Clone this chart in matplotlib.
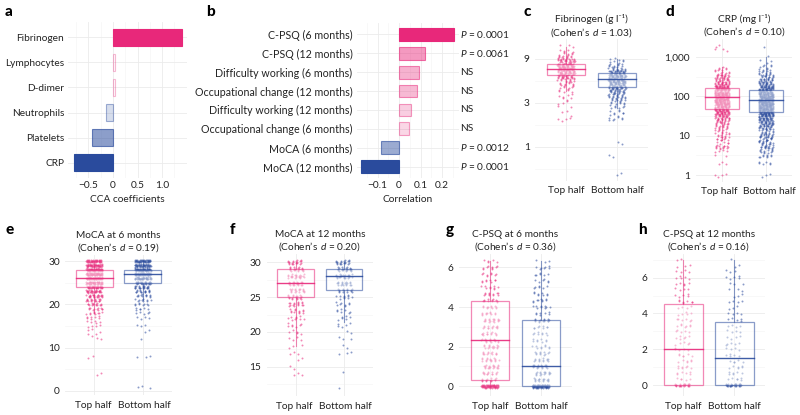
import numpy as np
import matplotlib
matplotlib.use("Agg")
import matplotlib.pyplot as plt
from matplotlib.colors import to_rgba
from matplotlib.transforms import ScaledTranslation

plt.rcParams['font.family'] = ['Lato', 'DejaVu Sans']
plt.rcParams['mathtext.fontset'] = 'custom'
plt.rcParams['mathtext.rm'] = 'Lato'
plt.rcParams['mathtext.it'] = 'Lato:italic'
plt.rcParams['mathtext.bf'] = 'Lato:bold'

PINK = '#E8287A'
BLUE = '#2A4B9D'
GRID = '#EBEBEB'
GRID_MINOR = '#F5F5F5'
TEXT = '#222222'
FS = 7.3

# ---------------- data ----------------
# panel a: CCA coefficients
cca_labels = ['Fibrinogen', 'Lymphocytes', 'D-dimer', 'Neutrophils', 'Platelets', 'CRP']
cca_values = [1.40, 0.04, 0.04, -0.15, -0.43, -0.80]

# panel b: correlations
corr_labels = ['C-PSQ (6 months)', 'C-PSQ (12 months)', 'Difficulty working (6 months)',
               'Occupational change (12 months)', 'Difficulty working (12 months)',
               'Occupational change (6 months)', 'MoCA (6 months)', 'MoCA (12 months)']
corr_values = [0.257, 0.122, 0.092, 0.082, 0.057, 0.047, -0.082, -0.175]
corr_pvals = ['$P$ = 0.0001', '$P$ = 0.0061', 'NS', 'NS', 'NS', 'NS',
              '$P$ = 0.0012', '$P$ = 0.0001']

group_labels = ['Top half', 'Bottom half']

# box stats: [whisker low, q1, median, q3, whisker high]
# panel c: fibrinogen (g/l)
fib_top_vals = [2.0, 2.2, 2.4, 2.7, 3.0, 3.3, 3.6, 4.0, 4.4, 4.8, 5.3, 5.8, 6.4, 7.0, 7.7, 8.5, 9.3, 10.2, 11.2, 12.3]
fib_top_counts = [4, 1, 2, 2, 3, 3, 4, 5, 7, 9, 14, 22, 34, 40, 36, 24, 14, 7, 4, 3]
fib_top_box = [4.0, 6.0, 6.9, 7.9, 12.0]
fib_bot_vals = [0.5, 0.8, 1.1, 2.0, 2.2, 2.4, 2.7, 3.0, 3.3, 3.6, 4.0, 4.4, 4.8, 5.3, 5.8, 6.4, 7.0, 7.7, 8.5, 9.0]
fib_bot_counts = [2, 2, 2, 7, 4, 5, 7, 9, 12, 16, 20, 28, 32, 38, 36, 28, 16, 9, 5, 3]
fib_bot_box = [2.6, 4.4, 5.4, 6.3, 9.0]

# panel d: CRP (mg/l)
crp_top_vals = [1, 2, 3, 4, 5, 6, 7, 8, 9, 10, 12, 15, 18, 22, 27, 33, 39, 47, 56, 68, 82, 100,
                120, 150, 180, 220, 270, 330, 390, 470, 560, 1500, 2000]
crp_top_counts = [4, 3, 2, 4, 12, 4, 4, 5, 3, 7, 7, 9, 10, 14, 18, 22, 26, 30, 34, 40, 42, 42,
                  40, 36, 30, 24, 18, 13, 9, 6, 3, 3, 2]
crp_top_box = [8, 48, 95, 160, 560]
crp_bot_vals = [1, 2, 3, 4, 5, 6, 7, 8, 9, 10, 12, 15, 18, 22, 27, 33, 39, 47, 56, 68, 82, 100,
                120, 150, 180, 220, 270, 330, 390, 470, 560, 680, 820, 1000, 1800]
crp_bot_counts = [3, 6, 9, 11, 14, 9, 8, 8, 6, 12, 12, 16, 18, 24, 28, 32, 36, 40, 42, 44, 44, 42,
                  38, 32, 28, 22, 16, 12, 9, 7, 4, 3, 2, 1, 1]
crp_bot_box = [6, 40, 80, 145, 1000]

# panel e: MoCA at 6 months
moca6_vals = [30, 29, 28, 27, 26, 25, 24, 23, 22, 21, 20, 19, 18, 17, 16, 15, 14, 13, 12, 8, 4, 1]
moca6_top_counts = [40, 45, 50, 50, 45, 40, 38, 30, 24, 18, 14, 11, 9, 7, 5, 4, 3, 3, 2, 2, 2, 0]
moca6_top_box = [18, 24, 26, 28, 30]
moca6_bot_counts = [45, 45, 50, 45, 38, 30, 22, 16, 12, 9, 8, 6, 5, 4, 0, 3, 2, 0, 1, 3, 0, 3]
moca6_bot_box = [21, 25, 27, 28, 30]

# panel f: MoCA at 12 months
moca12_vals = [30, 29, 28, 27, 26, 25, 24, 23, 22, 21, 20, 19, 18, 17, 16, 15, 14, 12]
moca12_top_counts = [20, 20, 22, 22, 18, 18, 16, 12, 9, 7, 5, 4, 3, 3, 2, 2, 3, 0]
moca12_top_box = [18, 25, 27, 29, 30]
moca12_bot_counts = [20, 22, 24, 18, 14, 10, 8, 7, 6, 5, 2, 3, 2, 3, 0, 0, 1, 1]
moca12_bot_box = [21.5, 26, 28, 29, 30]

# panel g: C-PSQ at 6 months
cpsq6_vals = [0, 0.33, 0.67, 1.0, 1.33, 1.67, 2.0, 2.33, 2.67, 3.0, 3.33, 3.67, 4.0, 4.33,
              4.67, 5.0, 5.33, 5.67, 6.0, 6.33]
cpsq6_top_counts = [55, 12, 14, 20, 16, 13, 15, 17, 13, 13, 17, 11, 11, 11, 11, 9, 8, 8, 9, 5]
cpsq6_top_box = [0, 0.33, 2.33, 4.33, 6.33]
cpsq6_bot_counts = [70, 16, 16, 20, 13, 11, 9, 8, 8, 8, 14, 7, 9, 9, 8, 6, 6, 6, 7, 3]
cpsq6_bot_box = [0, 0, 1.0, 3.33, 6.33]

# panel h: C-PSQ at 12 months
cpsq12_vals = [0, 0.33, 0.67, 1.0, 1.33, 1.67, 2.0, 2.33, 2.67, 3.0, 3.33, 3.67, 4.0, 4.33,
               4.67, 5.0, 5.33, 5.67, 6.0, 6.33, 6.67, 7.0]
cpsq12_top_counts = [22, 5, 6, 7, 6, 6, 5, 5, 6, 5, 7, 6, 5, 4, 7, 5, 4, 5, 5, 4, 3, 2]
cpsq12_top_box = [0, 0, 2.0, 4.5, 7.0]
cpsq12_bot_counts = [28, 6, 6, 6, 5, 5, 4, 5, 4, 4, 4, 5, 4, 3, 4, 3, 3, 3, 5, 3, 2, 1]
cpsq12_bot_box = [0, 0, 1.5, 3.5, 7.0]

# ---------------- figure ----------------
W, H = 800, 415
fig = plt.figure(figsize=(W / 100, H / 100), dpi=100)


def px_axes(l, t, r, b):
    return fig.add_axes([l / W, 1 - b / H, (r - l) / W, (b - t) / H])


def clean(ax):
    for s in ax.spines.values():
        s.set_visible(False)
    ax.tick_params(length=0, labelsize=FS, colors=TEXT)
    ax.set_axisbelow(True)


def panel_label(x, y, s):
    fig.text(x / W, 1 - y / H, s, fontsize=11, fontweight='black', va='center', ha='left')


def bar_panel(ax, labels, values, xlim, major, minor):
    n = len(labels)
    ypos = np.arange(n, 0, -1)
    pmax = max(v for v in values if v > 0)
    nmax = max(-v for v in values if v < 0)
    for y, v in zip(ypos, values):
        base = PINK if v > 0 else BLUE
        frac = abs(v) / (pmax if v > 0 else nmax)
        ax.barh(y, v, height=0.68, color=to_rgba(base, frac),
                edgecolor=to_rgba(base, 0.3 + 0.7 * frac), linewidth=0.8, zorder=3)
    ax.set_yticks(ypos)
    ax.set_yticklabels(labels)
    ax.set_ylim(0.4, n + 0.6)
    ax.set_xlim(*xlim)
    ax.set_xticks(major)
    ax.set_xticklabels([('%g' % m).replace('-', '\u2212') for m in major])
    for m in minor:
        ax.axvline(m, color=GRID_MINOR, lw=0.5, zorder=0)
    ax.grid(True, color=GRID, lw=0.6)
    clean(ax)
    ax.tick_params(axis='y', pad=3)
    ax.tick_params(axis='x', pad=2)
    return ypos


def jitter(vals, counts, xc, ysp, log):
    xs, ys = [], []
    k = 0
    for v, c in zip(vals, counts):
        for _ in range(c):
            k += 1
            dx = ((k * 0.7548776662) % 1 - 0.5) * 0.34
            dy = ((k * 0.5698402910 + 0.3) % 1 - 0.5) * 2 * ysp
            xs.append(xc + dx)
            ys.append(v * 10 ** dy if log else v + dy)
    return xs, ys


def box_panel(ax, title, groups, ylim, yticks, yticklabels, minor, ysp, log=False):
    for i, (vals, counts, box, color) in enumerate(groups):
        xc = i + 1
        xs, ys = jitter(vals, counts, xc, ysp, log)
        ax.scatter(xs, ys, s=2.0, color=color, alpha=0.55, lw=0, zorder=2)
        lo, q1, med, q3, hi = box
        ec = to_rgba(color, 0.55)
        ax.plot([xc, xc], [lo, q1], color=ec, lw=0.8, zorder=3)
        ax.plot([xc, xc], [q3, hi], color=ec, lw=0.8, zorder=3)
        ax.add_patch(plt.Rectangle((xc - 0.38, q1), 0.76, q3 - q1, facecolor=(1, 1, 1, 0.45),
                                   edgecolor=ec, lw=0.9, zorder=4))
        ax.plot([xc - 0.38, xc + 0.38], [med, med], color=to_rgba(color, 0.9), lw=1.0, zorder=5)
    if log:
        ax.set_yscale('log')
    ax.set_ylim(*ylim)
    ax.set_xlim(0.4, 2.6)
    ax.set_xticks([1, 2])
    ax.set_xticklabels(group_labels)
    ax.set_yticks(yticks)
    ax.set_yticklabels(yticklabels)
    ax.minorticks_off()
    for m in minor:
        ax.axhline(m, color=GRID_MINOR, lw=0.5, zorder=0)
    ax.grid(True, color=GRID, lw=0.6)
    clean(ax)
    ax.tick_params(axis='x', pad=4)
    ax.tick_params(axis='y', pad=4)
    ax.set_title(title, fontsize=FS, pad=3, linespacing=1.15, color=TEXT)


def spread_xlabels(ax, px):
    # nudge the two group labels apart so they do not touch
    for lab, sgn in zip(ax.get_xticklabels(), (-1, 1)):
        lab.set_transform(lab.get_transform() + ScaledTranslation(sgn * px / 100, 0, fig.dpi_scale_trans))


def cohen(d):
    return '(Cohen\u2019s $\\,d$ = %s)' % d


# a
ax_a = px_axes(68.4, 22, 187, 178)
bar_panel(ax_a, cca_labels, cca_values, (-0.91, 1.51),
          [-0.5, 0, 0.5, 1.0], [-0.75, -0.25, 0.25, 0.75, 1.25])
ax_a.set_xticklabels(['\u22120.5', '0', '0.5', '1.0'])
ax_a.set_xlabel('CCA coefficients', fontsize=FS, color=TEXT, labelpad=4)
panel_label(5, 12, 'a')

# b
ax_b = px_axes(356.7, 23, 459, 178)
ypos_b = bar_panel(ax_b, corr_labels, corr_values, (-0.197, 0.279),
                   [-0.1, 0, 0.1, 0.2], [-0.15, -0.05, 0.05, 0.15, 0.25])
ax_b.tick_params(axis='y', labelsize=7.7)
for y, p in zip(ypos_b, corr_pvals):
    ax_b.text(1.01, y, p, transform=ax_b.get_yaxis_transform(), fontsize=FS,
              va='center', ha='left', color=TEXT)
ax_b.set_xlabel('Correlation', fontsize=FS, color=TEXT, labelpad=4)
panel_label(206, 12, 'b')

# c
ax_c = px_axes(535.4, 39.3, 647.6, 180.8)
box_panel(ax_c, 'Fibrinogen (g l\u207b\u00b9)\n' + cohen('1.03'),
          [(fib_top_vals, fib_top_counts, fib_top_box, PINK),
           (fib_bot_vals, fib_bot_counts, fib_bot_box, BLUE)],
          (10 ** -0.371, 10 ** 1.167), [1, 3, 9], ['1', '3', '9'],
          [3 ** -0.5, 3 ** 0.5, 3 ** 1.5], 0.02, log=True)
panel_label(524, 12, 'c')

# d
ax_d = px_axes(695.6, 38.8, 792.4, 181.5)
box_panel(ax_d, 'CRP (mg l\u207b\u00b9)\n' + cohen('0.10'),
          [(crp_top_vals, crp_top_counts, crp_top_box, PINK),
           (crp_bot_vals, crp_bot_counts, crp_bot_box, BLUE)],
          (10 ** -0.165, 10 ** 3.465), [1, 10, 100, 1000], ['1', '10', '100', '1,000'],
          [10 ** 0.5, 10 ** 1.5, 10 ** 2.5, 10 ** 3.5], 0.04, log=True)
spread_xlabels(ax_d, 3)
panel_label(665, 12, 'd')

# e
ax_e = px_axes(65.3, 254.6, 171.7, 395.3)
box_panel(ax_e, 'MoCA at 6 months\n' + cohen('0.19'),
          [(moca6_vals, moca6_top_counts, moca6_top_box, PINK),
           (moca6_vals, moca6_bot_counts, moca6_bot_box, BLUE)],
          (-1.0, 31.5), [0, 10, 20, 30], ['0', '10', '20', '30'], [5, 15, 25], 0.3)
spread_xlabels(ax_e, 1.5)
panel_label(5, 230, 'e')

# f
ax_f = px_axes(266.9, 254, 372.9, 396)
box_panel(ax_f, 'MoCA at 12 months\n' + cohen('0.20'),
          [(moca12_vals, moca12_top_counts, moca12_top_box, PINK),
           (moca12_vals, moca12_bot_counts, moca12_bot_box, BLUE)],
          (10.8, 31.2), [15, 20, 25, 30], ['15', '20', '25', '30'], [12.5, 17.5, 22.5, 27.5], 0.3)
spread_xlabels(ax_f, 1.5)
panel_label(230, 230, 'f')

# g
ax_g = px_axes(459.4, 254, 571.6, 396)
box_panel(ax_g, 'C-PSQ at 6 months\n' + cohen('0.36'),
          [(cpsq6_vals, cpsq6_top_counts, cpsq6_top_box, PINK),
           (cpsq6_vals, cpsq6_bot_counts, cpsq6_bot_box, BLUE)],
          (-0.49, 6.68), [0, 2, 4, 6], ['0', '2', '4', '6'], [1, 3, 5], 0.08)
panel_label(446, 230, 'g')

# h
ax_h = px_axes(652.8, 254, 764.7, 396)
box_panel(ax_h, 'C-PSQ at 12 months\n' + cohen('0.16'),
          [(cpsq12_vals, cpsq12_top_counts, cpsq12_top_box, PINK),
           (cpsq12_vals, cpsq12_bot_counts, cpsq12_bot_box, BLUE)],
          (-0.61, 7.32), [0, 2, 4, 6], ['0', '2', '4', '6'], [1, 3, 5, 7], 0.08)
panel_label(638, 230, 'h')

fig.savefig('out.png', dpi=100, facecolor='white')
